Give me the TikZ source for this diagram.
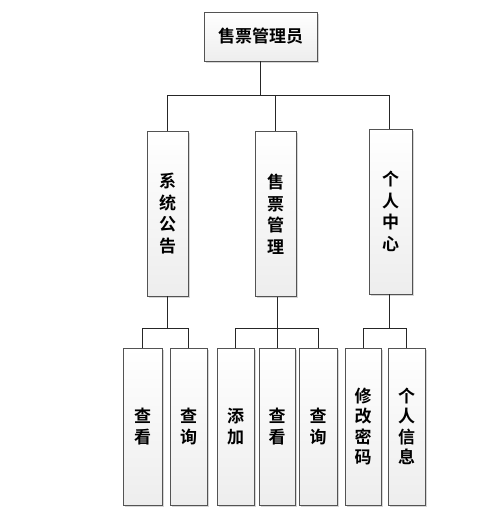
\documentclass[tikz,border=0pt]{standalone}
\usepackage{fontspec}
\newfontfamily\cjkfont{Noto Sans CJK SC}[BoldFont={Noto Sans CJK SC Bold}]
\usetikzlibrary{shadows}
\tikzset{
  box/.style={draw=gray!65!black, line width=0.8pt, inner sep=0pt, align=center,
    top color=white, bottom color=gray!14,
    drop shadow={shadow xshift=1.6pt, shadow yshift=-1.6pt, fill=gray!45, opacity=0.7},
    font=\cjkfont\bfseries\fontsize{17pt}{21.5pt}\selectfont},
  midbox/.style={box, minimum width=41pt, minimum height=165pt},
  leafbox/.style={box, minimum width=38pt, minimum height=157pt, font=\cjkfont\bfseries\fontsize{17pt}{20.5pt}\selectfont},
  link/.style={draw=black!85, line width=0.9pt}
}
\begin{document}
\begin{tikzpicture}[x=1pt,y=-1pt]
    \useasboundingbox[fill=white] (0,0) rectangle (499,522);
    % top
    \node[box, minimum width=113pt, minimum height=49pt] (root) at (260.5,36.5) {售票管理员};
    % second level
    \node[midbox] (notice) at (167.5,213.5) {系\\统\\公\\告};
    \node[midbox] (sale) at (275.5,214) {售\\票\\管\\理};
    \node[midbox, minimum width=43pt] (self) at (390.5,211.5) {个\\人\\中\\心};
    % leaves
    \node[leafbox, minimum width=39pt] (n1) at (142.5,426.5) {查\\看};
    \node[leafbox, minimum width=37pt] (n2) at (188.5,426.5) {查\\询};
    \node[leafbox, minimum width=37pt] (s1) at (235.5,426.5) {添\\加};
    \node[leafbox, minimum width=36pt] (s2) at (277,426.5) {查\\看};
    \node[leafbox, minimum width=38pt] (s3) at (318,426.5) {查\\询};
    \node[leafbox, minimum width=36pt] (p1) at (363,426.5) {修\\改\\密\\码};
    \node[leafbox, minimum width=37pt] (p2) at (406.5,426.5) {个\\人\\信\\息};
    % buses
    \coordinate (bus) at (260.5,95);
    \coordinate (busn) at (167.5,328);
    \coordinate (buss) at (277,328);
    \coordinate (busp) at (389,328);
    % links
    \draw[link] (root.south) -- (bus);
    \draw[link] (notice.north) |- (bus);
    \draw[link] (self.north -| busp) |- (bus);
    \draw[link] (sale.north) -- (sale.north |- bus);
    \draw[link] (notice.south) -- (busn);
    \draw[link] (n1.north) |- (busn);
    \draw[link] (n2.north) |- (busn);
    \draw[link] (sale.south -| buss) -- (buss);
    \draw[link] (s1.north) |- (buss);
    \draw[link] (s2.north) -- (buss);
    \draw[link] (s3.north) |- (buss);
    \draw[link] (self.south -| busp) -- (busp);
    \draw[link] (p1.north) |- (busp);
    \draw[link] (p2.north) |- (busp);
\end{tikzpicture}
\end{document}
